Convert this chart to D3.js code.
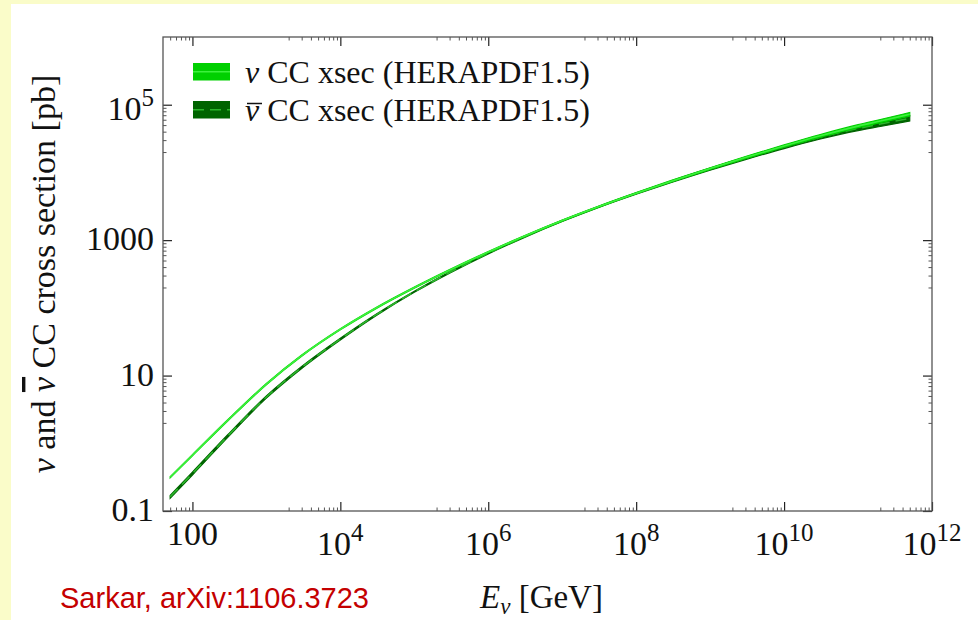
<!DOCTYPE html>
<html>
<head>
<meta charset="utf-8">
<script src="https://cdn.jsdelivr.net/npm/d3@7"></script>
<style>
  body { margin: 0; background: #fafcc9; }
  svg { display: block; }
  text { font-family: "Liberation Serif", "Times New Roman", serif; fill: #111; }
</style>
</head>
<body>
<div id="chart"></div>
<script>
// neutrino energy in GeV
const energies = [50, 100, 300, 1e3, 3e3, 1e4, 3e4, 1e5, 3e5, 1e6, 3e6, 1e7, 3e7, 1e8, 3e8, 1e9, 3e9, 1e10, 3e10, 1e11, 2e11, 5e11];
// CC cross sections in pb (HERAPDF1.5)
const nuXsec = [0.315, 0.667, 2.18, 7.48, 19.7, 48.3, 98.6, 199, 361, 667, 1130, 1945, 3080, 4940, 7430, 11400, 16600, 24500, 34400, 48300, 57400, 72300];
const nuBarXsec = [0.162, 0.358, 1.28, 4.83, 13.2, 34.6, 78.0, 173, 332, 640, 1104, 1923, 3055, 4890, 7330, 11200, 16100, 23700, 32900, 44600, 51800, 63000];
// relative PDF uncertainty (half width of the band)
const nuErr = [0.02, 0.02, 0.02, 0.02, 0.02, 0.02, 0.02, 0.02, 0.02, 0.02, 0.02, 0.02, 0.02, 0.02, 0.025, 0.03, 0.035, 0.04, 0.045, 0.05, 0.055, 0.06];
const nuBarErr = [0.05, 0.05, 0.045, 0.04, 0.035, 0.03, 0.025, 0.02, 0.02, 0.02, 0.02, 0.02, 0.02, 0.025, 0.03, 0.035, 0.04, 0.05, 0.06, 0.07, 0.08, 0.09];

const xTicks = [1e2, 1e4, 1e6, 1e8, 1e10, 1e12];
const xTickLabels = [["100", ""], ["10", "4"], ["10", "6"], ["10", "8"], ["10", "10"], ["10", "12"]];
const yTicks = [0.1, 10, 1000, 1e5];
const yTickLabels = [["0.1", ""], ["10", ""], ["1000", ""], ["10", "5"]];
const legendLabels = [" CC xsec (HERAPDF1.5)", " CC xsec (HERAPDF1.5)"];

const width = 978, height = 620;
const margin = ({top: 37, right: 46, bottom: 109, left: 163});

const x = d3.scaleLog([40, 1e12], [margin.left, width - margin.right]);
const y = d3.scaleLog([0.1, 1e6], [height - margin.bottom, margin.top]);

// minor ticks j*10^(k-1) just below every major tick
function minorTicks(majors, domain) {
    const out = [];
    majors.forEach(m => d3.range(2, 10).forEach(j => {
        const v = j * m / 10;
        if (v > domain[0] && v < domain[1]) out.push(v);
    }));
    return out;
}

const svg = d3.select("#chart")
    .append("svg")
    .attr("width", width)
    .attr("height", height);

svg.append("rect")
    .attr("x", 11).attr("y", 4)
    .attr("width", width).attr("height", height)
    .attr("fill", "#fff");

const series = [
    {name: "nuBar", v: nuBarXsec, err: nuBarErr, fill: "#006400", stroke: "#2bb52b", dash: "11,6"},
    {name: "nu", v: nuXsec, err: nuErr, fill: "#00d000", stroke: "#3cf03c", dash: null}
].map(s => ({...s, rows: energies.map((e, i) => ({e, v: s.v[i], err: s.err[i]}))}));

const area = d3.area()
    .x(d => x(d.e))
    .y0(d => y(d.v * (1 - d.err)))
    .y1(d => y(d.v * (1 + d.err)))
    .curve(d3.curveMonotoneX);

const line = d3.line()
    .x(d => x(d.e))
    .y(d => y(d.v))
    .curve(d3.curveMonotoneX);

const plot = svg.append("g");
series.forEach(s => {
    plot.append("path")
        .attr("d", area(s.rows))
        .attr("fill", s.fill)
        .attr("stroke", s.fill)
        .attr("stroke-width", 1.2);
    plot.append("path")
        .attr("d", line(s.rows))
        .attr("fill", "none")
        .attr("stroke", s.stroke)
        .attr("stroke-width", 1.6)
        .attr("stroke-dasharray", s.dash);
});

// frame with inward ticks on all four sides
const xMinor = minorTicks(xTicks, x.domain());
const yMinor = minorTicks(yTicks, y.domain());

function tickAxis(axis, major, minor, transform) {
    const g = svg.append("g").attr("transform", transform);
    g.append("g").call(axis.tickValues(minor).tickSize(-3.5).tickFormat(""))
        .call(a => a.selectAll("line").attr("stroke", "#555"));
    g.append("g").call(axis.tickValues(major).tickSize(-9).tickFormat(""))
        .call(a => a.selectAll("line").attr("stroke", "#222").attr("stroke-width", 1.2));
    g.selectAll(".domain").remove();
}
tickAxis(d3.axisBottom(x), xTicks, xMinor, `translate(0,${height - margin.bottom})`);
tickAxis(d3.axisTop(x), xTicks, xMinor, `translate(0,${margin.top})`);
tickAxis(d3.axisLeft(y), yTicks, yMinor, `translate(${margin.left},0)`);
tickAxis(d3.axisRight(y), yTicks, yMinor, `translate(${width - margin.right},0)`);

svg.append("rect")
    .attr("x", margin.left).attr("y", margin.top)
    .attr("width", width - margin.left - margin.right)
    .attr("height", height - margin.top - margin.bottom)
    .attr("fill", "none")
    .attr("stroke", "#555")
    .attr("stroke-width", 1.3);

// tick labels with superscript powers
function powerLabel(sel, lab) {
    sel.append("tspan").text(lab[0]);
    if (lab[1]) sel.append("tspan").attr("font-size", 25).attr("dy", -14).text(lab[1]);
}

svg.append("g")
    .attr("font-size", 34)
    .attr("text-anchor", "middle")
    .selectAll("text")
    .data(xTicks)
    .join("text")
    .attr("x", d => x(d))
    .attr("y", (d, i) => height - margin.bottom + (xTickLabels[i][1] ? 44 : 34))
    .each(function(d, i) { powerLabel(d3.select(this), xTickLabels[i]); });

svg.append("g")
    .attr("font-size", 34)
    .attr("text-anchor", "end")
    .selectAll("text")
    .data(yTicks)
    .join("text")
    .attr("x", margin.left - 9)
    .attr("y", (d, i) => y(d) + (yTickLabels[i][1] ? 15 : 10))
    .each(function(d, i) { powerLabel(d3.select(this), yTickLabels[i]); });

// axis titles
const yTitle = svg.append("text")
    .attr("transform", `translate(55,${(margin.top + height - margin.bottom) / 2})rotate(-90)`)
    .attr("text-anchor", "middle")
    .attr("font-size", 34);
yTitle.append("tspan").attr("font-style", "italic").text("ν");
yTitle.append("tspan").text(" and ");
yTitle.append("tspan").attr("font-style", "italic").style("text-decoration", "overline").text("ν");
yTitle.append("tspan").text(" CC cross section [pb]");

const xTitle = svg.append("text")
    .attr("x", 480)
    .attr("y", 608)
    .attr("font-size", 33);
xTitle.append("tspan").attr("font-style", "italic").text("E");
xTitle.append("tspan").attr("font-style", "italic").attr("font-size", 23).attr("dy", 6).text("ν");
xTitle.append("tspan").attr("dy", -6).text(" [GeV]");

svg.append("text")
    .attr("x", 60)
    .attr("y", 608)
    .attr("font-size", 29)
    .style("font-family", "'Liberation Sans', Arial, sans-serif")
    .style("fill", "#c40000")
    .text("Sarkar, arXiv:1106.3723");

// legend
const legend = svg.append("g")
    .selectAll("g")
    .data(series.slice().reverse())
    .join("g")
    .attr("transform", (d, i) => `translate(193,${63 + i * 38})`);

legend.append("rect")
    .attr("width", 37).attr("height", 17.5)
    .attr("fill", d => d.fill);
legend.append("line")
    .attr("x1", 0).attr("x2", 37)
    .attr("y1", 8.75).attr("y2", 8.75)
    .attr("stroke", d => d.stroke)
    .attr("stroke-width", 1.6)
    .attr("stroke-dasharray", d => d.dash);

legend.append("text")
    .attr("x", 52)
    .attr("y", 19.5)
    .attr("font-size", 32)
    .each(function(d, i) {
        const t = d3.select(this);
        t.append("tspan").attr("font-style", "italic").text("ν");
        t.append("tspan").text(legendLabels[i]);
    });

// bar over the nu of the antineutrino entry
legend.filter(d => d.name === "nuBar")
    .append("path")
    .attr("d", "M54,2.5H69")
    .attr("stroke", "#111")
    .attr("stroke-width", 1.5);
</script>
</body>
</html>
